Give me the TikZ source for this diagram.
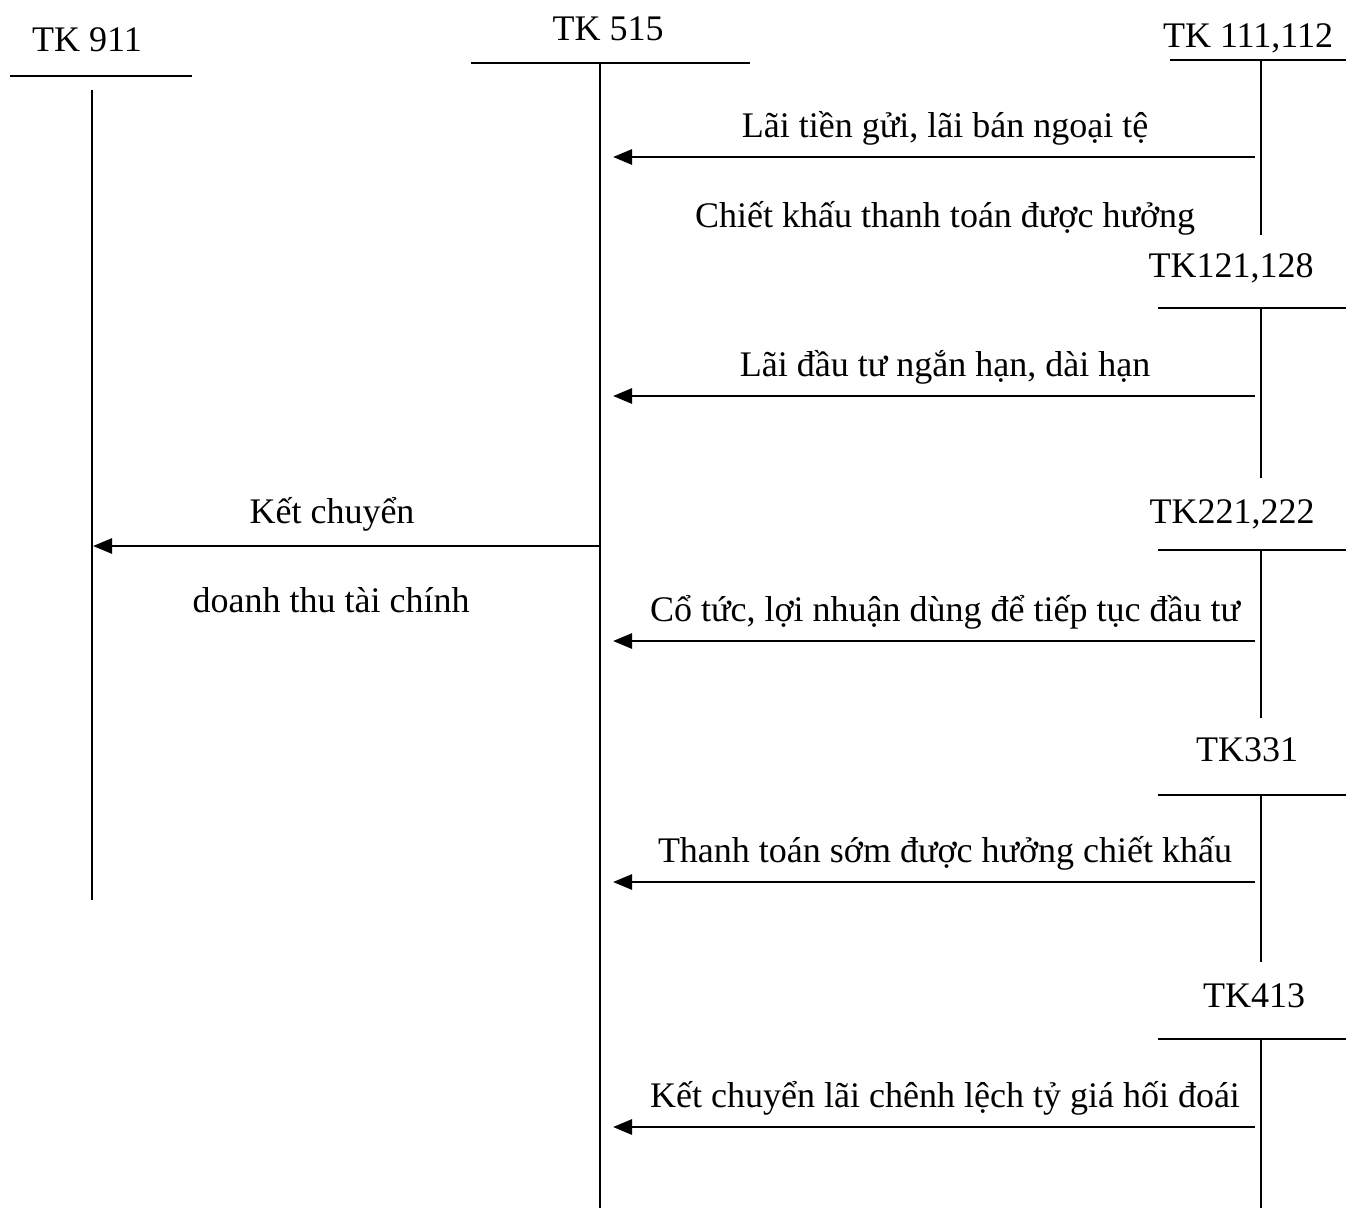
\documentclass[tikz,border=0pt]{standalone}
\usepackage{fontspec}
\setmainfont{Liberation Serif}
\usetikzlibrary{arrows.meta}
\begin{document}
\begin{tikzpicture}[x=1pt,y=-1pt,
  acct/.style={line width=2pt},
  title/.style={anchor=base,inner sep=0pt,font=\fontsize{36}{43}\selectfont},
  lbl/.style={anchor=base,inner sep=0pt,font=\fontsize{36}{43}\selectfont},
  flow/.style={line width=2.8pt,-{Triangle[length=19pt,width=15pt]}}]
\useasboundingbox (0,0) rectangle (1346,1208);

% account headings
\node[title] (t911) at (87,51) {TK 911};
\node[title] (t515) at (608,40) {TK 515};
\node[title] (t111) at (1248,47) {TK 111,112};
\node[title] (t121) at (1231,277) {TK121,128};
\node[title] (t221) at (1232,523) {TK221,222};
\node[title] (t331) at (1247,761) {TK331};
\node[title] (t413) at (1254,1007) {TK413};

% T-accounts: header rule and vertical stem
\draw[acct] (10,76) -- (192,76);
\draw[acct] (92,90) -- (92,900);
\draw[acct] (471,63) -- (750,63);
\draw[acct] (600,63) -- (600,1208);
\draw[acct] (1170,60) -- (1346,60);
\draw[acct] (1261,60) -- (1261,235);
\draw[acct] (1158,308) -- (1346,308);
\draw[acct] (1261,308) -- (1261,478);
\draw[acct] (1158,550) -- (1346,550);
\draw[acct] (1261,550) -- (1261,718);
\draw[acct] (1158,795) -- (1346,795);
\draw[acct] (1261,795) -- (1261,962);
\draw[acct] (1158,1039) -- (1346,1039);
\draw[acct] (1261,1039) -- (1261,1208);

% connector end points
\coordinate (s1) at (1255,157);  \coordinate (e1) at (613,157);
\coordinate (s2) at (1255,396);  \coordinate (e2) at (613,396);
\coordinate (s3) at (1255,641);  \coordinate (e3) at (613,641);
\coordinate (s4) at (1255,882);  \coordinate (e4) at (613,882);
\coordinate (s5) at (1255,1127); \coordinate (e5) at (613,1127);
\coordinate (sk) at (600,546);   \coordinate (ek) at (93,546);

% flows
\draw[flow] (s1) -- (e1);
\draw[flow] (s2) -- (e2);
\draw[flow] (s3) -- (e3);
\draw[flow] (s4) -- (e4);
\draw[flow] (s5) -- (e5);
\draw[flow] (sk) -- (ek);

% flow labels
\node[lbl] (l1a) at (945,137) {Lãi tiền gửi, lãi bán ngoại tệ};
\node[lbl] (l1b) at (945,227) {Chiết khấu thanh toán được hưởng};
\node[lbl] (l2) at (945,376) {Lãi đầu tư ngắn hạn, dài hạn};
\node[lbl] (l3) at (945,621) {Cổ tức, lợi nhuận dùng để tiếp tục đầu tư};
\node[lbl] (l4) at (945,862) {Thanh toán sớm được hưởng chiết khấu};
\node[lbl] (l5) at (945,1107) {Kết chuyển lãi chênh lệch tỷ giá hối đoái};
\node[lbl] (lka) at (332,523) {Kết chuyển};
\node[lbl] (lkb) at (331,612) {doanh thu tài chính};
\end{tikzpicture}
\end{document}
